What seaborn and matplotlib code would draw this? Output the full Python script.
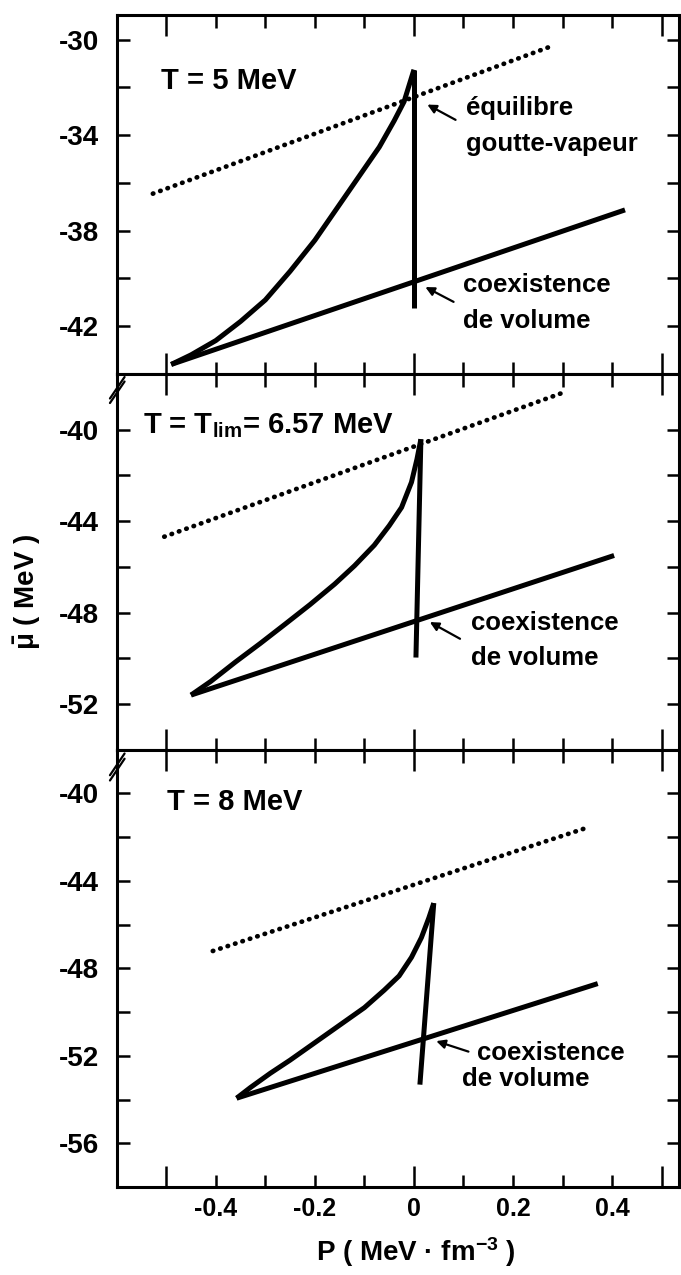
import matplotlib
matplotlib.use("Agg")
import matplotlib.pyplot as plt
import seaborn as sns

# ------------------------------------------------------------
# values  (P in MeV fm^-3, mu in MeV)
# ------------------------------------------------------------
# T = 5 MeV
p5_curve = [-0.49, -0.45, -0.40, -0.35, -0.30, -0.25, -0.20, -0.15, -0.10, -0.07, -0.04, -0.02, 0.0]
mu5_curve = [-43.6, -43.2, -42.6, -41.8, -40.9, -39.7, -38.4, -36.9, -35.4, -34.5, -33.4, -32.6, -31.26]
p5_vert = [0.0, 0.0]
mu5_vert = [-31.26, -41.25]
p5_coex = [-0.49, 0.426]
mu5_coex = [-43.6, -37.13]
p5_drop = [-0.527, 0.277]
mu5_drop = [-36.45, -30.28]

# T = Tlim = 6.57 MeV
p657_curve = [-0.45, -0.41, -0.36, -0.31, -0.26, -0.21, -0.16, -0.12, -0.08, -0.05, -0.025, -0.005, 0.006, 0.014]
mu657_curve = [-51.6, -51.0, -50.15, -49.34, -48.5, -47.65, -46.75, -45.95, -45.05, -44.2, -43.4, -42.3, -41.3, -40.42]
p657_vert = [0.014, 0.004]
mu657_vert = [-40.42, -49.96]
p657_coex = [-0.45, 0.404]
mu657_coex = [-51.6, -45.5]
p657_drop = [-0.504, 0.299]
mu657_drop = [-44.68, -38.40]

# T = 8 MeV
p8_curve = [-0.358, -0.33, -0.29, -0.25, -0.20, -0.15, -0.10, -0.06, -0.03, -0.005, 0.015, 0.030, 0.040]
mu8_curve = [-53.94, -53.45, -52.8, -52.2, -51.4, -50.6, -49.8, -49.0, -48.35, -47.5, -46.6, -45.7, -45.02]
p8_vert = [0.040, 0.012]
mu8_vert = [-45.02, -53.32]
p8_coex = [-0.358, 0.371]
mu8_coex = [-53.94, -48.70]
p8_drop = [-0.406, 0.347]
mu8_drop = [-47.21, -41.59]

x_ticks = [-0.5, -0.4, -0.3, -0.2, -0.1, 0.0, 0.1, 0.2, 0.3, 0.4, 0.5]
x_ticklabels = ["", "-0.4", "", "-0.2", "", "0", "", "0.2", "", "0.4", ""]

top_yticks = [-30, -34, -38, -42]
mid_yticks = [-40, -44, -48, -52]
bot_yticks = [-40, -44, -48, -52, -56]

# ------------------------------------------------------------
sns.set_style("ticks")
plt.rcParams["font.family"] = ["Liberation Sans", "DejaVu Sans"]
plt.rcParams["font.weight"] = "bold"
plt.rcParams["axes.unicode_minus"] = False
plt.rcParams["mathtext.default"] = "regular"
for k in ("text.color", "axes.labelcolor", "xtick.color", "ytick.color", "axes.edgecolor"):
    plt.rcParams[k] = "black"

W, H = 681, 1275
fig = plt.figure(figsize=(W / 100, H / 100), dpi=100)
gs = fig.add_gridspec(3, 1, height_ratios=[359, 376, 437], hspace=0,
                      left=116.7 / W, right=679 / W, top=1 - 15 / H, bottom=1 - 1187 / H)
axes = [fig.add_subplot(gs[i]) for i in range(3)]

panels = [
    dict(curve=(p5_curve, mu5_curve), vert=(p5_vert, mu5_vert), coex=(p5_coex, mu5_coex),
         drop=(p5_drop, mu5_drop), ylim=(-43.74, -28.97), yticks=top_yticks),
    dict(curve=(p657_curve, mu657_curve), vert=(p657_vert, mu657_vert), coex=(p657_coex, mu657_coex),
         drop=(p657_drop, mu657_drop), ylim=(-53.05, -37.57), yticks=mid_yticks),
    dict(curve=(p8_curve, mu8_curve), vert=(p8_vert, mu8_vert), coex=(p8_coex, mu8_coex),
         drop=(p8_drop, mu8_drop), ylim=(-56.0, -38.02), yticks=bot_yticks),
]

tick_font = dict(family=["Liberation Sans Narrow", "Liberation Sans", "DejaVu Sans"], weight="bold")

for i, (ax, pan) in enumerate(zip(axes, panels)):
    for key in ("curve", "vert", "coex"):
        xs, ys = pan[key]
        sns.lineplot(x=xs, y=ys, ax=ax, sort=False, estimator=None, color="black",
                     linewidth=3.6, solid_capstyle="butt", solid_joinstyle="round")
    xs, ys = pan["drop"]
    sns.lineplot(x=xs, y=ys, ax=ax, sort=False, estimator=None, color="black",
                 linewidth=3.4, linestyle=(0, (0.1, 1.55)), dash_capstyle="round")

    ax.set_xlim(-0.6, 0.535)
    ax.set_ylim(*pan["ylim"])
    for s in ax.spines.values():
        s.set_linewidth(2.2)
        s.set_visible(True)

    ax.set_yticks(pan["yticks"])
    ax.set_yticklabels([str(v) for v in pan["yticks"]], fontsize=20, **tick_font)
    ax.set_yticks([v - 2 for v in pan["yticks"]], minor=True)
    ax.set_xticks(x_ticks)
    if i == 2:
        ax.set_xticklabels(x_ticklabels, fontsize=18, **tick_font)
    else:
        ax.set_xticklabels([])
    ax.tick_params(which="both", direction="in", top=True, right=True, width=1.8, length=9)
    ax.tick_params(axis="y", which="both", pad=13)
    ax.tick_params(axis="x", which="both", pad=7)
    for tk, v in zip(ax.xaxis.get_major_ticks(), x_ticks):
        if v in (-0.5, 0.0, 0.5):
            tk.tick1line.set_markersize(15)
            tk.tick2line.set_markersize(15)
    ax.set_xlabel("")
    ax.set_ylabel("")

    # break marks on the left axis
    if i > 0:
        hfrac = 20 / (376 if i == 1 else 437)
        for dy in (0.0, 0.012):
            ax.plot([-0.012, 0.014], [1 - hfrac - 0.012 - dy, 1 - 0.012 - dy + 0.004],
                    transform=ax.transAxes, color="black", lw=1.6, clip_on=False)

lab = dict(fontsize=18.5, weight="bold", ha="left", va="center")
arrow = dict(arrowstyle="-|>", color="black", lw=1.6, mutation_scale=13, shrinkA=0, shrinkB=0)

ax = axes[0]
ax.text(-0.511, -31.72, "T = 5 MeV", fontsize=21, weight="bold", ha="left", va="center")
ax.text(0.106, -32.88, "équilibre", **lab)
ax.text(0.106, -34.39, "goutte-vapeur", **lab)
ax.annotate("", xy=(0.027, -32.72), xytext=(0.084, -33.36), arrowprops=arrow)
ax.text(0.100, -40.29, "coexistence", **lab)
ax.text(0.100, -41.80, "de volume", **lab)
ax.annotate("", xy=(0.023, -40.36), xytext=(0.080, -40.98), arrowprops=arrow)

ax = axes[1]
ax.text(-0.546, -39.81, "T = T$_{lim}$= 6.57 MeV", fontsize=21, weight="bold", ha="left", va="center")
ax.text(0.115, -48.45, "coexistence", **lab)
ax.text(0.115, -49.96, "de volume", **lab)
ax.annotate("", xy=(0.032, -48.41), xytext=(0.093, -49.14), arrowprops=arrow)

ax = axes[2]
ax.text(-0.498, -40.42, "T = 8 MeV", fontsize=21, weight="bold", ha="left", va="center")
ax.text(0.128, -51.88, "coexistence", **lab)
ax.text(0.097, -53.05, "de volume", **lab)
ax.annotate("", xy=(0.045, -51.33), xytext=(0.110, -51.81), arrowprops=arrow)

fig.text(27 / W, 1 - 592 / H, r"$\bar{\mu}$ ( MeV )", rotation=90, ha="center", va="center",
         fontsize=20, weight="bold")
fig.text(416 / W, 1 - 1252 / H, "P ( MeV · fm$^{-3}$ )", ha="center", va="center",
         fontsize=20, weight="bold")

fig.savefig("out.png", dpi=100, facecolor="white")
